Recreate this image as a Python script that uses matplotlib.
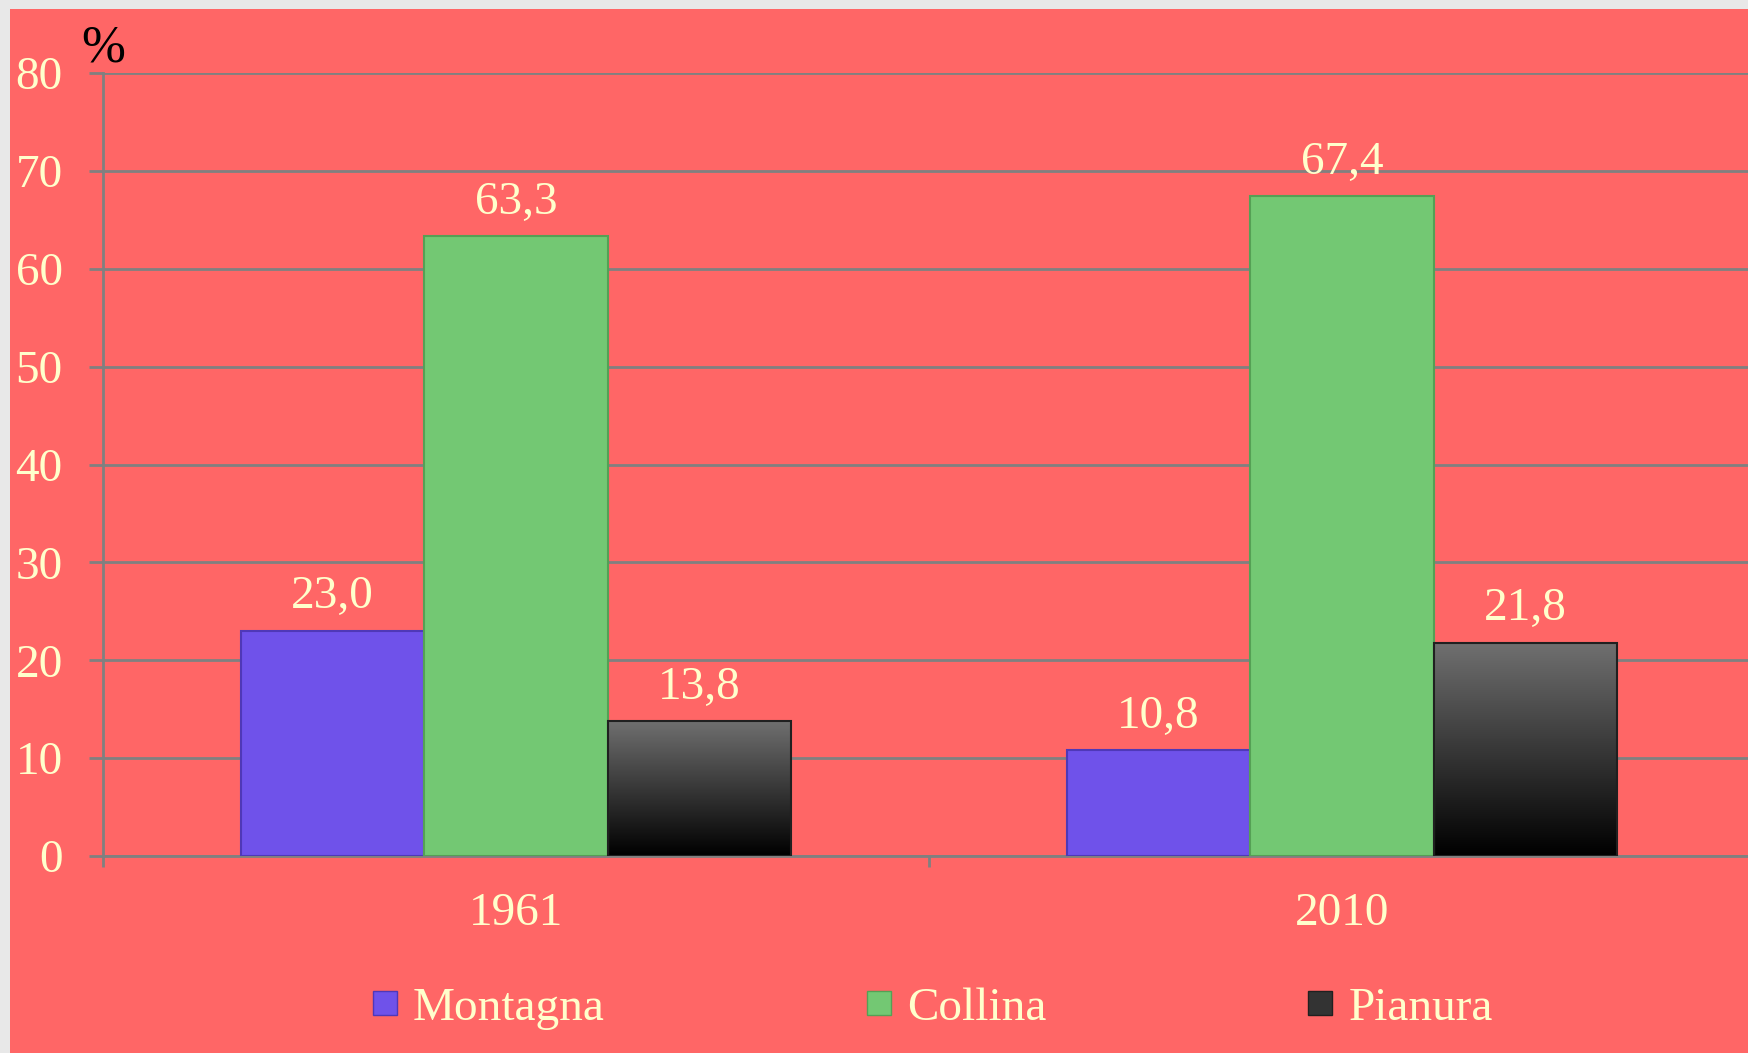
import matplotlib
matplotlib.use("Agg")
import matplotlib.pyplot as plt
import numpy as np
from matplotlib.patches import Rectangle
from matplotlib.lines import Line2D

years = ["1961", "2010"]
series = ["Montagna", "Collina", "Pianura"]
montagna = [23.0, 10.8]
collina = [63.3, 67.4]
pianura = [13.8, 21.8]
y_ticks = [0, 10, 20, 30, 40, 50, 60, 70, 80]

BG = "#FF6666"
CREAM = "#FFFFCC"
GRID = "#808080"
COLORS = {"Montagna": "#6F52EA", "Collina": "#73C873"}
EDGES = {"Montagna": "#4F38B8", "Collina": "#55A055", "Pianura": "#202020"}

plt.rcParams["font.family"] = ["Liberation Serif", "DejaVu Serif"]

fig = plt.figure(figsize=(17.48, 10.53), dpi=100, facecolor="#E8E8E8")
fig.patches.append(Rectangle((10 / 1748, 0), 1, 1 - 9 / 1053, transform=fig.transFigure,
                             facecolor=BG, edgecolor="none", zorder=-10))

ax = fig.add_axes([103 / 1748, 0.187, 1652 / 1748, 0.7437])
ax.set_facecolor(BG)
ax.set_xlim(-0.5, 1.5)
ax.set_ylim(0, 80)

x = np.arange(len(years))
w = 0.222
values = {"Montagna": montagna, "Collina": collina, "Pianura": pianura}
grad = np.linspace(0, 1, 256).reshape(-1, 1)
gray_cmap = matplotlib.colors.LinearSegmentedColormap.from_list("g", ["#000000", "#707070"])

for i, name in enumerate(series):
    offs = (i - 1) * w
    vals = values[name]
    if name == "Pianura":
        bars = ax.bar(x + offs, vals, w, facecolor="none", edgecolor=EDGES[name], linewidth=1.5, zorder=3)
        for b in bars:
            x0, y0 = b.get_x(), b.get_y()
            im = ax.imshow(grad, cmap=gray_cmap, origin="lower", aspect="auto",
                           extent=[x0, x0 + b.get_width(), y0, y0 + b.get_height()], zorder=2.5)
            im.set_clip_path(b)
    else:
        bars = ax.bar(x + offs, vals, w, color=COLORS[name], edgecolor=EDGES[name], linewidth=1.5, zorder=3)
    for xi, v in zip(x + offs, vals):
        ax.annotate(f"{v:.1f}".replace(".", ","), (xi, v), xytext=(0, 9), textcoords="offset points",
                    ha="center", va="bottom", color=CREAM, fontsize=34, zorder=4)

ax.set_yticks(y_ticks)
ax.set_yticklabels([str(t) for t in y_ticks])
ax.yaxis.grid(True, color=GRID, linewidth=2)
ax.set_axisbelow(True)
ax.tick_params(axis="y", colors=GRID, labelcolor=CREAM, labelsize=34, length=10, width=2, pad=19)
ax.set_xticks(x)
ax.set_xticklabels(years)
ax.set_xticks([-0.5, 0.5, 1.5], minor=True)
ax.tick_params(axis="x", which="major", length=0, labelcolor=CREAM, labelsize=34, pad=26)
ax.tick_params(axis="x", which="minor", length=8, width=2, colors=GRID)
for side in ["top", "right"]:
    ax.spines[side].set_visible(False)
for side in ["left", "bottom"]:
    ax.spines[side].set_color(GRID)
    ax.spines[side].set_linewidth(2)

fig.text(103 / 1748, 1 - 48 / 1053, "%", ha="center", va="center", color="black", fontsize=38)

handles = [
    Line2D([], [], marker="s", linestyle="none", markersize=17, markerfacecolor=COLORS["Montagna"], markeredgecolor=EDGES["Montagna"]),
    Line2D([], [], marker="s", linestyle="none", markersize=17, markerfacecolor=COLORS["Collina"], markeredgecolor=EDGES["Collina"]),
    Line2D([], [], marker="s", linestyle="none", markersize=17, markerfacecolor="#333333", markeredgecolor=EDGES["Pianura"]),
]
fig.legend(handles, series, loc="center", bbox_to_anchor=(0.533, 1 - 1008 / 1053), ncol=3, frameon=False,
           fontsize=34, labelcolor=CREAM, handlelength=0.6, handletextpad=0.3, columnspacing=5.5)

plt.savefig("out.png", dpi=100, facecolor=fig.get_facecolor())
